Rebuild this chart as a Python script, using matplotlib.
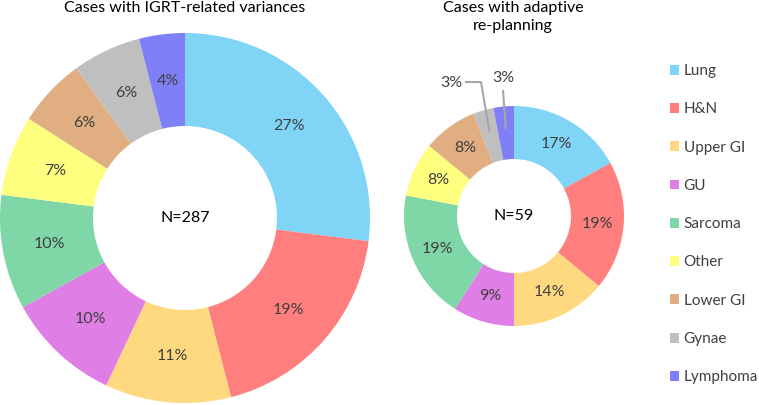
import matplotlib
matplotlib.use("Agg")
import matplotlib.pyplot as plt
import numpy as np

categories = ["Lung", "H&N", "Upper GI", "GU", "Sarcoma", "Other", "Lower GI", "Gynae", "Lymphoma"]
igrt_pct = [27, 19, 11, 10, 10, 7, 6, 6, 4]
adaptive_pct = [17, 19, 14, 9, 19, 8, 8, 3, 3]
igrt_n = 287
adaptive_n = 59
colors = ["#80d5f7", "#ff7f7f", "#ffd97f", "#df7fe6", "#7fd6a6", "#ffff7f", "#e0ae80", "#bfbfbf", "#7f7ff7"]
title_left = "Cases with IGRT-related variances"
title_right = "Cases with adaptive\nre-planning"

plt.rcParams['font.family'] = ['Lato', 'DejaVu Sans']
W, H = 759, 405
fig = plt.figure(figsize=(W / 100, H / 100), dpi=100)
ax = fig.add_axes([0, 0, 1, 1])

txt = '#404040'

def pct_fmt(hide_small):
    def f(p):
        v = round(p)
        if hide_small and v <= 3:
            return ''
        return f'{v}%'
    return f

# Left donut
cL, rL, inL = (185, H - 218), 185, 92
wL, tL, aL = ax.pie(igrt_pct, colors=colors, startangle=90, counterclock=False,
                    center=cL, radius=rL, autopct=pct_fmt(False),
                    pctdistance=(rL + inL) / 2 / rL,
                    wedgeprops=dict(width=rL - inL, linewidth=0),
                    textprops=dict(fontsize=11.5, color=txt))

# Right donut
cR, rR, inR = (514, H - 216), 110, 57
wR, tR, aR = ax.pie(adaptive_pct, colors=colors, startangle=90, counterclock=False,
                    center=cR, radius=rR, autopct=pct_fmt(True),
                    pctdistance=(rR + inR) / 2 / rR,
                    wedgeprops=dict(width=rR - inR, linewidth=0),
                    textprops=dict(fontsize=11.5, color=txt))

ax.set_xlim(0, W)
ax.set_ylim(0, H)
ax.set_aspect('equal')
ax.axis('off')

ax.text(cL[0], cL[1], f'N={igrt_n}', ha='center', va='center', fontsize=11.5, color='black')
ax.text(cR[0], cR[1], f'N={adaptive_n}', ha='center', va='center', fontsize=11.5, color='black')

# leader lines for small slices of right donut
for i, lab_xy, bend in [(7, (451, H - 83), (481, H - 82)), (8, (503, H - 78), None)]:
    w = wR[i]
    ang = np.deg2rad((w.theta1 + w.theta2) / 2)
    r0 = (rR + inR) / 2 + 4
    p0 = (cR[0] + r0 * np.cos(ang), cR[1] + r0 * np.sin(ang))
    if bend is not None:
        xs = [p0[0], bend[0], lab_xy[0] + 14]
        ys = [p0[1], bend[1], bend[1]]
    else:
        xs = [p0[0], lab_xy[0]]
        ys = [p0[1], lab_xy[1] - 12]
    ax.plot(xs, ys, color='#a6a6a6', lw=1.5, solid_capstyle='butt')
    ax.text(lab_xy[0], lab_xy[1], f'{adaptive_pct[i]}%', ha='center', va='center', fontsize=11.5, color=txt)

ax.text(185, H - 8, title_left, ha='center', va='center', fontsize=11.5, color='black')
ax.text(513, H - 17, title_right, ha='center', va='center', fontsize=11.5, color='black', linespacing=1.45)

leg = ax.legend(wL, categories, loc='upper left', bbox_to_anchor=(670, H - 64),
                bbox_transform=ax.transData, frameon=False, fontsize=11,
                handlelength=0.62, handleheight=0.62, handletextpad=0.28,
                labelspacing=1.59, borderpad=0, borderaxespad=0)
for t in leg.get_texts():
    t.set_color(txt)

fig.savefig('out.png', dpi=100)
